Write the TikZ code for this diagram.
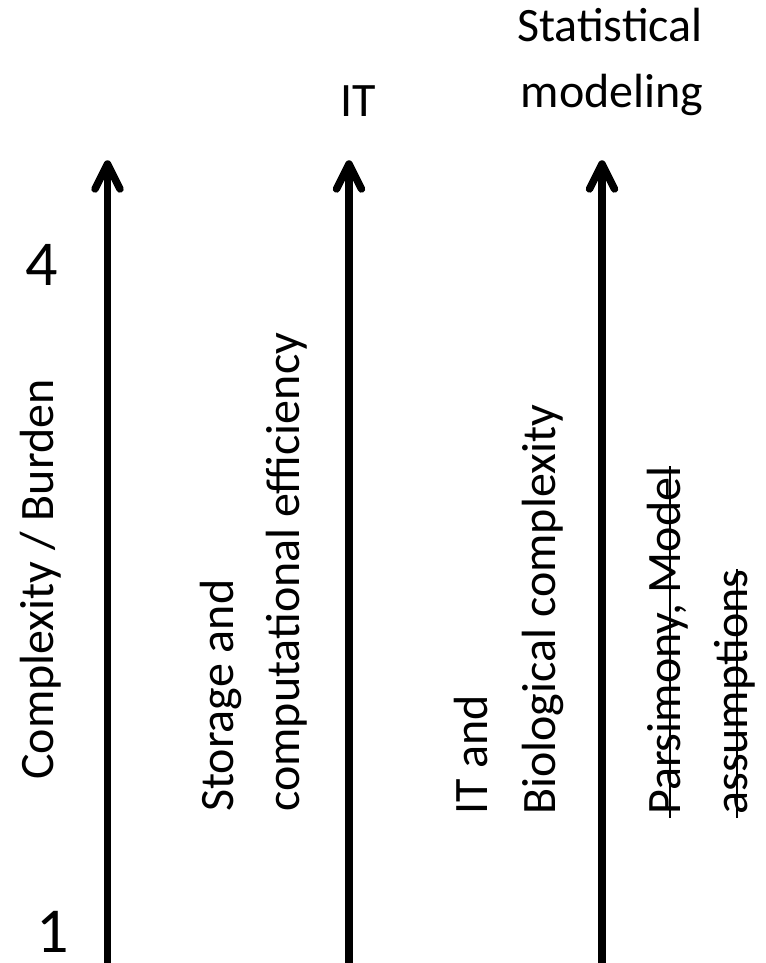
\documentclass[tikz,border=0pt]{standalone}
\usepackage{fontspec}
\setmainfont{Carlito}
\begin{document}
\begin{tikzpicture}[x=0.75pt,y=-0.75pt,
  axis/.style={line width=5.6pt},
  head/.style={line width=5.6pt,line cap=round,line join=round},
  lbl/.style={inner sep=0pt,font=\fontsize{36}{43}\selectfont},
  vlbl/.style={lbl,rotate=90,anchor=base west},
  numlbl/.style={inner sep=0pt,anchor=base,font=\fontsize{48}{58}\selectfont},
  strike/.style={line width=1.5pt}]
\useasboundingbox (0,0) rectangle (765,963);

% three vertical axes with open chevron heads
\coordinate (b1) at (107.5,963);
\coordinate (t1) at (107.5,164);
\coordinate (b2) at (349,963);
\coordinate (t2) at (349,164);
\coordinate (b3) at (602,963);
\coordinate (t3) at (602,164);
\foreach \i in {1,2,3}{
  \draw[axis] (b\i) -- (t\i);
  \draw[head] ([shift={(-12.5,25)}]t\i) -- (t\i) -- ([shift={(12.5,25)}]t\i);
}

% scale marks
\node[numlbl] (four) at (42,285) {4};
\node[numlbl] (one) at (53,952) {1};

% headings
\node[lbl,anchor=base] (it) at (358,117) {IT};
\node[lbl,anchor=base] (stat1) at (610,42) {Statistical};
\node[lbl,anchor=base] (stat2) at (612,108) {modeling};

% rotated labels
\node[vlbl] (burden) at (53,780) {Complexity / Burden};
\node[vlbl] (store1) at (233,812) {Storage and};
\node[vlbl] (store2) at (299,812) {computational efficiency};
\node[vlbl] (bio1) at (487,815) {IT and};
\node[vlbl] (bio2) at (555,815) {Biological complexity};
\node[vlbl] (pars1) at (680,815) {Parsimony, Model};
\node[vlbl] (pars2) at (747,815) {assumptions};

% struck-through text
\draw[strike] ([shift={(-10,3)}]pars1.base west) -- ([shift={(-10,0)}]pars1.base east);
\draw[strike] ([shift={(-10,3)}]pars2.base west) -- ([shift={(-10,0)}]pars2.base east);
\end{tikzpicture}
\end{document}
